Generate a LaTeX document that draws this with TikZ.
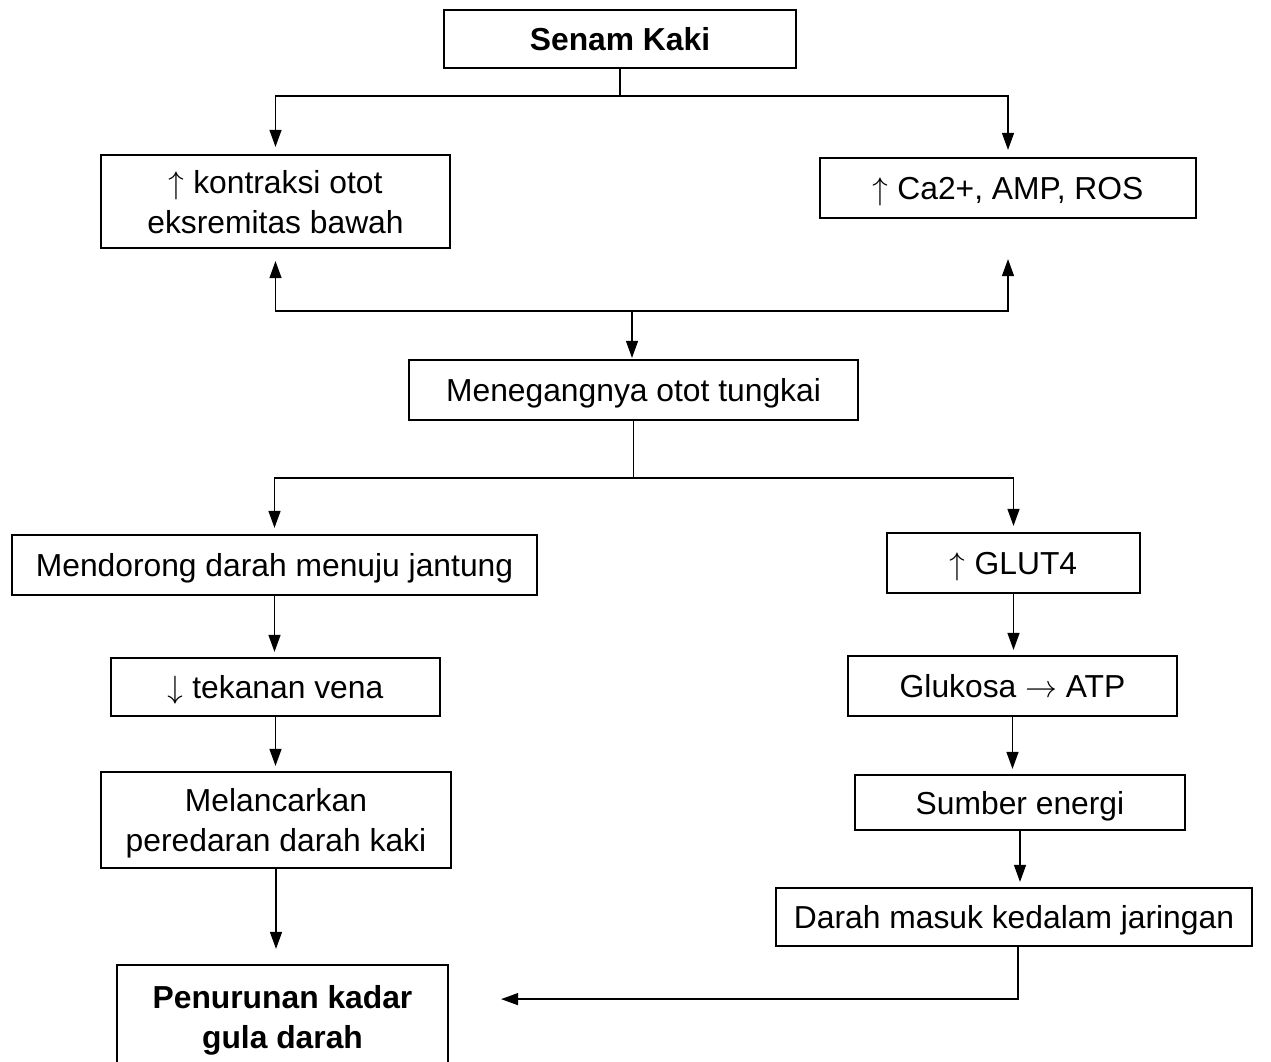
\documentclass[tikz,border=0pt]{standalone}
\usepackage{fontspec}
\usepackage{unicode-math}
\setmainfont{Liberation Sans}
\setmathfont{Latin Modern Math}
\usetikzlibrary{arrows.meta}
\begin{document}
\begin{tikzpicture}[x=1pt,y=-1pt,
  box/.style={draw, line width=2.2pt, inner sep=0pt, align=center, text depth=0pt,
    font=\fontsize{31.8pt}{40pt}\selectfont},
  boldbox/.style={box, font=\fontsize{31.8pt}{40pt}\selectfont\bfseries},
  conn/.style={line width=1.3pt},
  arr/.style={conn, -{Triangle[length=17pt,width=12pt]}}]
\useasboundingbox (0,0) rectangle (1271,1062);
% boxes
\node[boldbox, minimum width=352pt, minimum height=58pt] (senam) at (620,39) {Senam Kaki};
\node[box, minimum width=349pt, minimum height=93pt] (kontr) at (275.5,201.5) {$\uparrow$ kontraksi otot\\eksremitas bawah};
\node[box, minimum width=376pt, minimum height=60pt] (ca) at (1008,188) {$\uparrow$ Ca2+, AMP, ROS};
\node[box, minimum width=449pt, minimum height=60pt] (meneg) at (633.5,390) {Menegangnya otot tungkai};
\node[box, minimum width=525pt, minimum height=60pt] (mend) at (274.5,565) {Mendorong darah menuju jantung};
\node[box, minimum width=253pt, minimum height=60pt] (glut) at (1013.5,563) {$\uparrow$ GLUT4};
\node[box, minimum width=329pt, minimum height=58pt] (tek) at (275.5,687) {$\downarrow$ tekanan vena};
\node[box, minimum width=329pt, minimum height=60pt] (gluk) at (1012.5,686) {Glukosa $\rightarrow$ ATP};
\node[box, minimum width=350pt, minimum height=96pt] (mel) at (276,820) {Melancarkan\\peredaran darah kaki};
\node[box, minimum width=330pt, minimum height=55pt] (sumber) at (1020,802.5) {Sumber energi};
\node[box, minimum width=476pt, minimum height=58pt] (darah) at (1014,917) {Darah masuk kedalam jaringan};
\node[boldbox, minimum width=331pt, minimum height=104pt] (pen) at (282.5,1017) {Penurunan kadar\\gula darah};
% top fork
\draw[conn] (senam.south) -- ++(0,27) coordinate (j1);
\draw[arr, shorten >=7pt] (j1) -| (kontr.north);
\draw[arr, shorten >=7pt] (j1) -| (ca.north);
% middle fork (up arrows and down arrow)
\coordinate (j2) at (632,311);
\draw[arr, shorten >=12pt] (j2) -| (kontr.south);
\draw[arr, shorten >=40pt] (j2) -| (ca.south);
\draw[arr, shorten >=1pt] (j2) -- (j2 |- meneg.north);
% lower fork
\draw[conn] (meneg.south) -- ++(0,57) coordinate (j3);
\draw[arr, shorten >=6pt] (j3) -| (mend.north);
\draw[arr, shorten >=6pt] (j3) -| (glut.north);
% left chain
\draw[arr, shorten >=5pt] (mend.south) -- (mend.south |- tek.north);
\draw[arr, shorten >=5pt] (tek.south) -- (tek.south |- mel.north);
\draw[arr, shorten >=15pt] (mel.south) -- (mel.south |- pen.north);
% right chain
\draw[arr, shorten >=5pt] (glut.south) -- (glut.south |- gluk.north);
\draw[arr, shorten >=5pt] (gluk.south) -- (gluk.south |- sumber.north);
\draw[arr, shorten >=5pt] (sumber.south) -- (sumber.south |- darah.north);
\draw[arr, shorten >=52pt] ([xshift=4pt]darah.south) -- ++(0,52) coordinate (j4) -- (j4 -| pen.east);
\end{tikzpicture}
\end{document}
